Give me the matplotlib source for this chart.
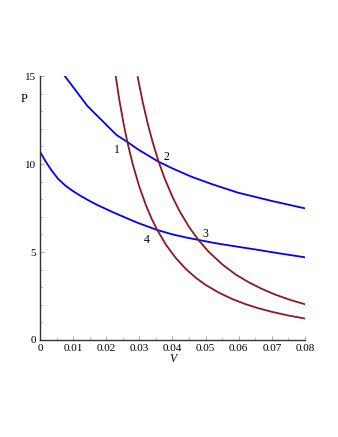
import matplotlib.pyplot as plt
from matplotlib.ticker import MultipleLocator

# isotherm-like (blue) curves
v_hi = [0.0075, 0.0143, 0.0231, 0.0264, 0.0296, 0.0356, 0.040, 0.0457, 0.052,
        0.0598, 0.070, 0.08]
p_hi = [15.0, 13.3, 11.65, 11.25, 10.83, 10.15, 9.75, 9.28, 8.85,
        8.37, 7.9, 7.48]
v_lo = [0.0, 0.0017, 0.0034, 0.0055, 0.0075, 0.0095, 0.012, 0.0145, 0.017, 0.0195,
        0.0225, 0.0256, 0.0296, 0.0325, 0.0354, 0.040, 0.044, 0.048, 0.053, 0.058,
        0.0648, 0.072, 0.08]
p_lo = [10.7, 10.15, 9.66, 9.15, 8.8, 8.52, 8.22, 7.95, 7.7, 7.48,
        7.22, 6.97, 6.65, 6.45, 6.25, 6.0, 5.83, 5.68, 5.5, 5.35,
        5.15, 4.93, 4.7]

# adiabat-like (red) curves
v_a1 = [0.0228, 0.024, 0.0252, 0.0264, 0.028, 0.030, 0.032, 0.0337, 0.0354, 0.038,
        0.041, 0.044, 0.047, 0.050, 0.054, 0.058, 0.062, 0.066, 0.070, 0.075, 0.08]
p_a1 = [15.06, 13.59, 12.33, 11.23, 9.99, 8.70, 7.65, 6.89, 6.25, 5.42,
        4.66, 4.04, 3.54, 3.13, 2.69, 2.33, 2.04, 1.80, 1.60, 1.39, 1.22]
v_a2 = [0.0295, 0.031, 0.0325, 0.034, 0.0356, 0.0375, 0.040, 0.042, 0.045, 0.048,
        0.051, 0.055, 0.059, 0.063, 0.067, 0.071, 0.0755, 0.08]
p_a2 = [14.94, 13.53, 12.31, 11.25, 10.26, 9.24, 8.13, 7.37, 6.42, 5.64,
        5.00, 4.30, 3.73, 3.28, 2.90, 2.58, 2.28, 2.03]

# corner labels
lab_txt = ['1', '2', '3', '4']
lab_v = [0.0233, 0.0383, 0.0498, 0.0323]
lab_p = [10.8, 10.4, 6.02, 5.68]

plt.rcParams['font.family'] = ['Liberation Serif', 'DejaVu Serif']

fig = plt.figure(figsize=(3.38, 4.37), dpi=100)
ax = fig.add_axes([0.1183, 0.222, 0.7841, 0.604])

blue = '#0000ff'
red = '#8b1a22'
ax.plot(v_hi, p_hi, color=blue, lw=1.3)
ax.plot(v_lo, p_lo, color=blue, lw=1.3)
ax.plot(v_a1, p_a1, color=red, lw=1.3)
ax.plot(v_a2, p_a2, color=red, lw=1.3)

for t, x, y in zip(lab_txt, lab_v, lab_p):
    ax.text(x, y, t, fontsize=8.5, ha='center', va='center')

ax.set_xlim(0, 0.08)
ax.set_ylim(0, 15)
ax.xaxis.set_minor_locator(MultipleLocator(0.005))
ax.yaxis.set_major_locator(MultipleLocator(5))
ax.yaxis.set_minor_locator(MultipleLocator(1))
ax.set_xticks([0, 0.01, 0.02, 0.03, 0.04, 0.05, 0.06, 0.07, 0.08])
ax.set_xticklabels(['0', '0.01', '0.02', '0.03', '0.04', '0.05', '0.06', '0.07', '0.08'])

ax.spines['top'].set_visible(False)
ax.spines['right'].set_visible(False)
for s in ['left', 'bottom']:
    ax.spines[s].set_color('#333333')
    ax.spines[s].set_linewidth(1.0)
ax.tick_params(which='major', direction='in', length=3, width=0.6, color='#999999',
               labelsize=8, pad=3)
ax.tick_params(which='minor', direction='in', length=2, width=0.5, color='#aaaaaa')

ax.set_xlabel('V', fontsize=8.5, style='italic', labelpad=0)
ax.text(-0.0048, 13.7, 'P', fontsize=9, ha='center', va='center')

fig.savefig('out.png', dpi=100)
